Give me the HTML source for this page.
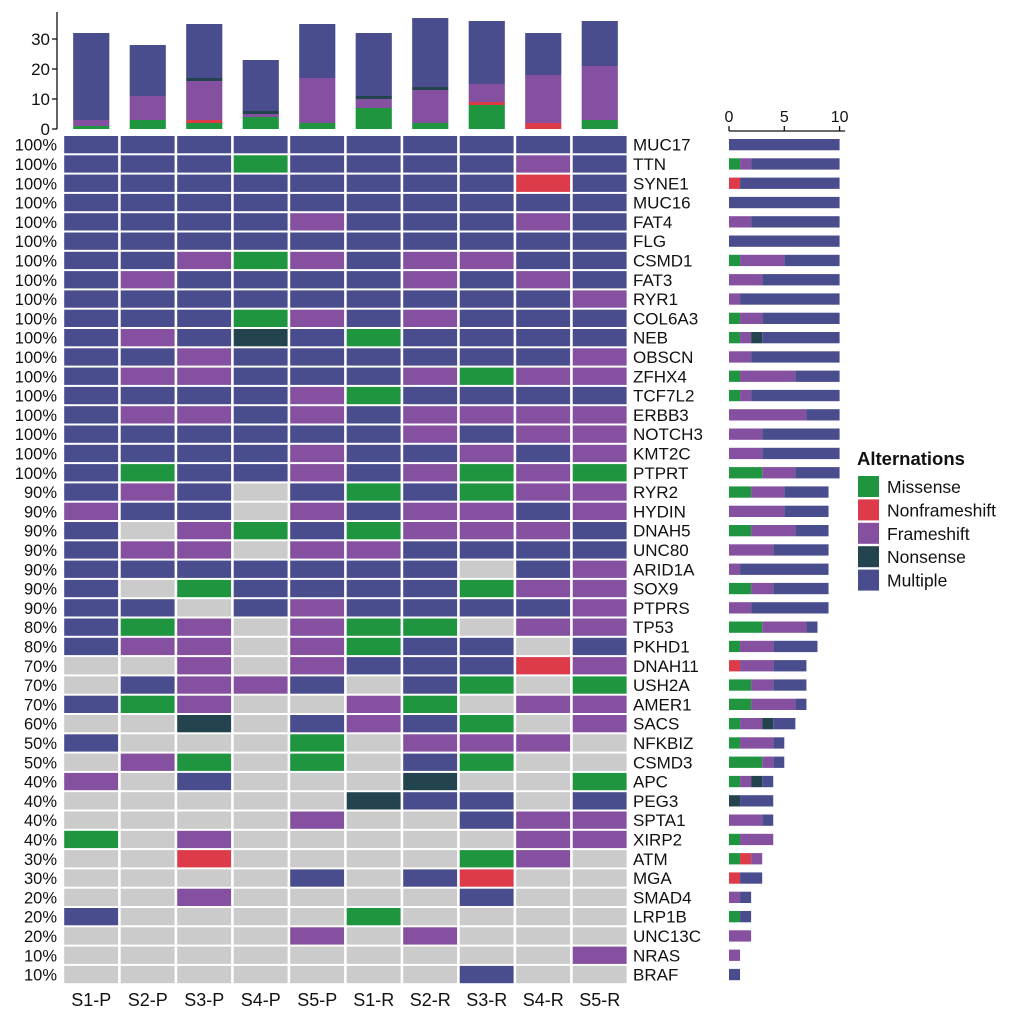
<!DOCTYPE html>
<html><head><meta charset="utf-8">
<style>
html,body{margin:0;padding:0;background:#fff;}
svg{display:block;font-family:"Liberation Sans",Arial,sans-serif;}
</style></head>
<body>
<svg id="chart" width="1020" height="1012" viewBox="0 0 1020 1012"></svg>
<script>
const samples = ["S1-P","S2-P","S3-P","S4-P","S5-P","S1-R","S2-R","S3-R","S4-R","S5-R"];
const genes = ["MUC17","TTN","SYNE1","MUC16","FAT4","FLG","CSMD1","FAT3","RYR1","COL6A3","NEB","OBSCN","ZFHX4","TCF7L2","ERBB3","NOTCH3","KMT2C","PTPRT","RYR2","HYDIN","DNAH5","UNC80","ARID1A","SOX9","PTPRS","TP53","PKHD1","DNAH11","USH2A","AMER1","SACS","NFKBIZ","CSMD3","APC","PEG3","SPTA1","XIRP2","ATM","MGA","SMAD4","LRP1B","UNC13C","NRAS","BRAF"];
// M=missense N=nonframeshift F=frameshift S=nonsense B=multiple G=none
const matrix = ["BBBBBBBBBB","BBBMBBBBFB","BBBBBBBBNB","BBBBBBBBBB","BBBBFBBBFB","BBBBBBBBBB","BBFMFBFFBB","BFBBBBFBFB","BBBBBBBBBF","BBBMFBFBBB","BFBSBMBBBB","BBFBBBBBBF","BFFBBBFMFF","BBBBFMBBBB","BFFBFBFFFF","BBBBBBFBFF","BBBBFBBFBF","BMBBFBFMFM","BFBGBMBMFF","FBBGFBFFBF","BGFMBMFFFB","BFFGFFBBBB","BBBBBBBGBF","BGMBBBBMFF","BBGBFBBBBF","BMFGFMMGFF","BFFGFMBBGB","GGFGFBBBNF","GBFFBGBMGM","BMFGGFMGFF","GGSGBFBMGF","BGGGMGFFFG","GFMGMGBMGG","FGBGGGSGGM","GGGGGSBBGB","GGGGFGGBFF","MGFGGGGGFF","GGNGGGGMFG","GGGGBGBNGG","GGFGGGGBGG","BGGGGMGGGG","GGGGFGFGGG","GGGGGGGGGF","GGGGGGGBGG"];
const topMissense = [1,3,2,4,2,7,2,8,0,3];
const topNonframeshift = [0,0,1,0,0,0,0,1,2,0];
const topFrameshift = [2,8,13,1,15,3,11,6,16,18];
const topNonsense = [0,0,1,1,0,1,1,0,0,0];
const topMultiple = [29,17,18,17,18,21,23,21,14,15];
const topTicks = [0,10,20,30];
const rightTicks = [0,5,10];
const typeOrder = ["M","N","F","S","B"];
const typeNames = {M:"Missense",N:"Nonframeshift",F:"Frameshift",S:"Nonsense",B:"Multiple"};
const colors = {M:"#1f9540",N:"#dd3a4a",F:"#85509f",S:"#23444f",B:"#494d8e",G:"#cbcbcb"};

const NS="http://www.w3.org/2000/svg";
const svg=document.getElementById('chart');
function mk(tag,attrs,parent){const e=document.createElementNS(NS,tag);for(const k in attrs)e.setAttribute(k,attrs[k]);(parent||svg).appendChild(e);return e;}

const gx0=63, colW=56.5, gy0=135, rowH=19.3;
const colX=i=>gx0+i*colW;
const rowY=j=>gy0+j*rowH;
const topBase=129, topPx=3;
const topY=v=>topBase-v*topPx;
const rx0=729, rPx=11.06;
const rX=v=>rx0+v*rPx;

matrix.forEach((row,j)=>{
  for(let i=0;i<samples.length;i++){
    const c=row[i];
    const r=mk('rect',{x:colX(i)+1.2,y:rowY(j)+1,width:colW-2.6,height:rowH-2,fill:colors[c]});
    
    
  }
  const nonG=row.split('').filter(c=>c!=='G').length;
  const p=mk('text',{x:57,y:rowY(j)+rowH/2+6,'font-size':16.5,'text-anchor':'end',fill:'#111'});
  p.textContent=Math.round(nonG/row.length*100)+'%';
  
  
  const g=mk('text',{x:633,y:rowY(j)+rowH/2+6,'font-size':17,fill:'#111'});
  g.textContent=genes[j];
  
  
  let acc=0;
  typeOrder.forEach(t=>{
    const n=row.split('').filter(c=>c===t).length;
    if(n>0){
      const b=mk('rect',{x:rX(acc),y:rowY(j)+4,width:rX(acc+n)-rX(acc),height:rowH-8,fill:colors[t]});
      
      
      acc+=n;
    }
  });
});

samples.forEach((s,i)=>{
  const t=mk('text',{x:colX(i)+colW/2,y:1006,'font-size':18,'text-anchor':'middle',fill:'#111'});
  t.textContent=s;
  
  
});

const topSeries=[["M",topMissense],["N",topNonframeshift],["F",topFrameshift],["S",topNonsense],["B",topMultiple]];
samples.forEach((s,i)=>{
  let acc=0;
  const bw=colW*0.64, bx=colX(i)+colW/2-bw/2;
  topSeries.forEach(([t,arr])=>{
    const v=arr[i];
    if(v>0){
      const b=mk('rect',{x:bx,y:topY(acc+v),width:bw,height:v*topPx,fill:colors[t]});
      
      
      acc+=v;
    }
  });
});
const ta=mk('line',{x1:57,y1:12,x2:57,y2:topBase,stroke:'#111','stroke-width':1.3});


topTicks.forEach(v=>{
  const tk=mk('line',{x1:52,y1:topY(v),x2:57,y2:topY(v),stroke:'#111','stroke-width':1.3});
  
  
  const tl=mk('text',{x:50,y:topY(v)+6,'font-size':17,'text-anchor':'end',fill:'#111'});
  tl.textContent=v;
  
  
});

const ra=mk('line',{x1:rX(0),y1:131,x2:rX(10.5),y2:131,stroke:'#111','stroke-width':1.3});


rightTicks.forEach(v=>{
  const tk=mk('line',{x1:rX(v),y1:126,x2:rX(v),y2:131,stroke:'#111','stroke-width':1.3});
  
  
  const tl=mk('text',{x:rX(v),y:122,'font-size':16,'text-anchor':'middle',fill:'#111'});
  tl.textContent=v;
  
  
});

const lt=mk('text',{x:857,y:465,'font-size':18.5,'font-weight':'bold',fill:'#111'});
lt.textContent='Alternations';


typeOrder.forEach((t,k)=>{
  const y=476+k*23.4;
  const sq=mk('rect',{x:858,y:y,width:21,height:21,fill:colors[t]});
  
  
  const tx=mk('text',{x:887,y:y+17,'font-size':17.5,fill:'#111'});
  tx.textContent=typeNames[t];
  
  
});
</script>
</body></html>
